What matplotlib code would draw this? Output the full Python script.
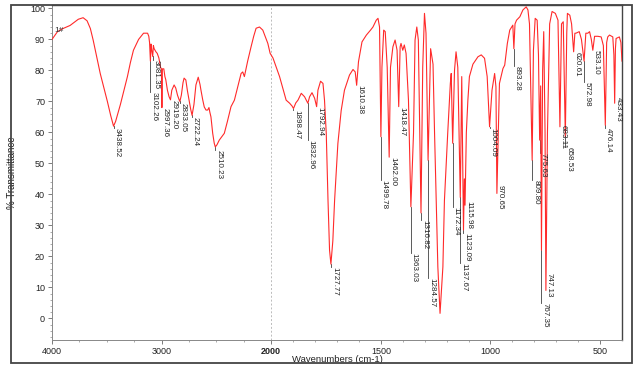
import numpy as np
import matplotlib
matplotlib.use("Agg")
import matplotlib.pyplot as plt
from matplotlib.patches import Rectangle
from matplotlib.ticker import FixedLocator, NullFormatter

plt.rcParams['font.family'] = ['Liberation Sans', 'DejaVu Sans']

# spectrum: wavenumber (cm-1) and % transmittance
wn = [4000, 3950, 3900, 3835, 3760, 3716, 3680, 3650, 3624, 3590, 3560, 3520, 3495, 3465,
      3438.52, 3420, 3400, 3376, 3340, 3312, 3285, 3257, 3210, 3165, 3128, 3117, 3110,
      3102.26, 3097, 3090, 3081.35, 3075, 3068, 3060, 3052, 3040, 3025, 3010, 3002,
      2997.36, 2993, 2980, 2970, 2962, 2947, 2932, 2919.20, 2907, 2886, 2871, 2855, 2840,
      2833.05, 2820, 2805, 2795, 2779, 2765, 2749, 2735, 2722.24, 2705, 2687, 2666, 2650,
      2641, 2625, 2611, 2595, 2580, 2568, 2560, 2550, 2534, 2520, 2510.23, 2495, 2474,
      2443, 2428, 2400, 2367, 2336, 2305, 2275, 2260, 2245, 2215, 2184, 2160, 2138, 2107,
      2077, 2050, 2031, 2010, 1992, 1977, 1962, 1947, 1932, 1916, 1905, 1898.47, 1888,
      1878, 1863, 1848, 1832.96, 1825, 1814, 1802, 1792.94, 1787, 1775, 1764, 1757, 1749,
      1741, 1734, 1727.77, 1719, 1711, 1696, 1681, 1666, 1643, 1627, 1617, 1610.38, 1602,
      1586, 1566, 1547, 1536, 1521, 1513, 1506, 1499.78, 1495, 1487, 1480, 1471, 1462.00,
      1456, 1445, 1435, 1426, 1418.47, 1412, 1408, 1400, 1393, 1385, 1374, 1363.03, 1351,
      1344, 1336, 1329, 1316.82, 1309, 1301, 1294, 1284.57, 1273, 1262, 1255, 1240, 1230,
      1217, 1210, 1195, 1183, 1179, 1172.34, 1164, 1157, 1149, 1137.67, 1131, 1123.09,
      1119, 1115.98, 1110, 1103, 1096, 1080, 1057, 1042, 1027, 1015, 1004.09, 993, 981,
      975, 970.65, 959, 943, 935, 923, 912, 898, 893.28, 888, 881, 866, 852, 837, 829,
      822, 815, 809.80, 804, 796, 787, 781, 775.63, 771, 767.35, 762, 757, 751, 747.13,
      740, 730, 719, 704, 692, 683.11, 676, 668, 658.53, 652, 649, 638, 630, 620.61, 615,
      610, 595, 585, 572.98, 565, 556, 548, 540, 533.10, 525, 510, 495, 485, 476.14, 470,
      465, 457, 442, 437, 433.43, 430, 427, 412, 405, 400]
trans = [90, 92.5, 93.5, 94.5, 96.5, 97, 96, 93.5, 89.7, 84, 79, 73.5, 70, 65.5,
         62, 63.5, 66, 69, 74, 78, 82.5, 86.5, 90, 92, 92, 91, 89,
         83, 88.5, 86.5, 84.5, 88, 87, 86.5, 86, 85.5, 84, 81, 80.5,
         68, 80.5, 80.5, 78, 77, 73.6, 71.5, 70.5, 73.6, 75.3, 74.3, 72, 70.5,
         70, 72, 76, 77.5, 76.9, 73.5, 70.4, 67.5, 65.5, 69, 75.3, 77.8, 75.5,
         73.6, 70.5, 68.2, 67.2, 67.2, 68, 66.5, 65, 59.7, 56.5, 55.3, 56, 57.5,
         59, 59.7, 63.5, 68.3, 70.4, 74.7, 79, 79.5, 78, 83, 87.6, 91, 93.6, 94,
         93, 90.5, 88.7, 85.5, 84, 81, 78, 74.2, 70.4, 69.4, 68.5, 67.7, 69.5,
         70.4, 72.6, 71.5, 69.4, 71.5, 72.8, 71, 68.3, 73.6, 76.5, 75.8, 70.4, 59.7,
         38, 22, 17.5, 25, 38, 56.4, 67, 73.6, 78.5, 80.3, 79.5, 75.2, 82.8,
         89.2, 91.4, 93, 94, 96.2, 96.8, 94, 58.6, 81, 93, 92.5, 81, 52,
         81, 87.6, 89.8, 86.5, 68.3, 87.6, 88.7, 86.5, 88.2, 85.5, 70.4, 36, 59.7,
         89.8, 94, 89.8, 34, 81, 98.4, 92, 51, 87, 82, 59.7, 16.6, 1.6,
         16.6, 38, 59.7, 75.8, 79, 56.5, 80, 86, 81, 39, 78, 28.5,
         45, 36.5, 60, 70.4, 78, 82, 84.4, 85, 83.9, 78, 61.8, 73.6, 79,
         74.7, 40.3, 75.8, 80.6, 81.7, 88.7, 93, 94.6, 87, 95, 96.2, 97.3, 99.5, 100.5, 99.5,
         95, 70, 51, 86.5, 96.8, 96.2, 85, 57.5, 75, 22, 80, 92.5, 60, 9,
         60, 95, 99, 98.4, 96.2, 61.8, 95, 95.7, 58.6, 92, 98.4, 97.8, 95, 86, 92,
         92, 92.5, 90, 83, 92, 92, 92.5, 90, 86.5, 91, 91, 90.8, 88, 62.3, 89,
         90.8, 91.4, 90.8, 85, 69.4, 87, 90.3, 90.8, 89, 83]

# peak labels and the height (in %T) where each label's text starts
peaks = [3438.52, 3102.26, 3081.35, 2997.36, 2919.20, 2833.05, 2722.24, 2510.23,
         1898.47, 1832.96, 1792.94, 1727.77, 1610.38, 1499.78, 1462.00, 1418.47,
         1363.03, 1316.82, 1284.57, 1172.34, 1137.67, 1123.09, 1115.98, 1004.09,
         970.65, 893.28, 809.80, 775.63, 767.35, 747.13, 683.11, 658.53, 620.61,
         572.98, 533.10, 476.14, 433.43]
label_top = [61.4, 73, 83.3, 68, 70.4, 69.4, 65, 54.3,
             67.2, 57.5, 68.2, 16.5, 75.3, 44.6, 52, 68.2,
             21, 31.7, 13, 36, 18, 27.5, 38, 61.4,
             43, 81.4, 44.6, 53.3, 5, 14.6, 62.3, 55.2, 86,
             76.2, 86.5, 61.4, 71.4]

x_major = [4000, 3000, 2000, 1500, 1000, 500]
y_major = list(range(0, 101, 10))


# IR style axis: 2x expansion below 2000 cm-1
def fwd(w):
    w = np.asarray(w, dtype=float)
    return np.where(w >= 2000, 1000 + w / 2, w)


def inv(u):
    u = np.asarray(u, dtype=float)
    return np.where(u >= 2000, (u - 1000) * 2, u)


fig = plt.figure(figsize=(6.36, 3.70), dpi=100)
fig.add_artist(Rectangle((11 / 636, 1 - 363 / 370), 621 / 636, 358 / 370,
                         transform=fig.transFigure, fill=False, ec='#444444', lw=1.3))
ax = fig.add_axes([52 / 636, 1 - 340 / 370, 570 / 636, 335 / 370])
ax.set_xscale('function', functions=(fwd, inv))
ax.set_xlim(4000, 400)
ax.set_ylim(-7.0, 101.1)

ax.axvline(2000, color='#bbbbbb', lw=0.7, ls=(0, (2, 2)), zorder=0)
ax.plot(wn, trans, color='#ff2a2a', lw=0.8, zorder=3)

dips = np.interp(peaks, wn[::-1], trans[::-1])
for p, d, t in zip(peaks, dips, label_top):
    if t < d:
        ax.plot([p, p], [d, t], color='#404040', lw=0.6, zorder=2)
    ax.text(p, t, f'{p:.2f}', rotation=270, rotation_mode='anchor', ha='left',
            va='bottom', fontsize=5.8, color='#222222')

ax.text(3975, 93, '1#', fontsize=6, color='#333333', va='center', ha='left')

ax.xaxis.set_major_locator(FixedLocator(x_major))
ax.xaxis.set_minor_locator(FixedLocator(list(range(3750, 2000, -250)) +
                                        list(range(1900, 400, -100))))
ax.xaxis.set_minor_formatter(NullFormatter())
ax.set_xticklabels([str(v) for v in x_major])
for lab in ax.get_xticklabels():
    if lab.get_text() == '2000':
        lab.set_fontweight('bold')
ax.yaxis.set_major_locator(FixedLocator(y_major))
ax.yaxis.set_minor_locator(FixedLocator(list(range(-6, 101, 2))))
ax.tick_params(axis='both', which='major', labelsize=6.5, length=3, width=0.6,
               color='#666666', labelcolor='#222222', pad=2)
ax.tick_params(axis='both', which='minor', length=1.5, width=0.5, color='#888888')

for s in ['top', 'right']:
    ax.spines[s].set_color('#444444')
    ax.spines[s].set_linewidth(1.0)
for s in ['left', 'bottom']:
    ax.spines[s].set_color('#888888')
    ax.spines[s].set_linewidth(0.7)

ax.set_xlabel('Wavenumbers (cm-1)', fontsize=6.8, color='#222222')
ax.xaxis.set_label_coords(0.5, -0.045)
ax.set_ylabel('% Transmittance', fontsize=7, color='#222222')
ax.yaxis.set_label_coords(-0.061, 0.5)

fig.savefig('out.png', dpi=100)
